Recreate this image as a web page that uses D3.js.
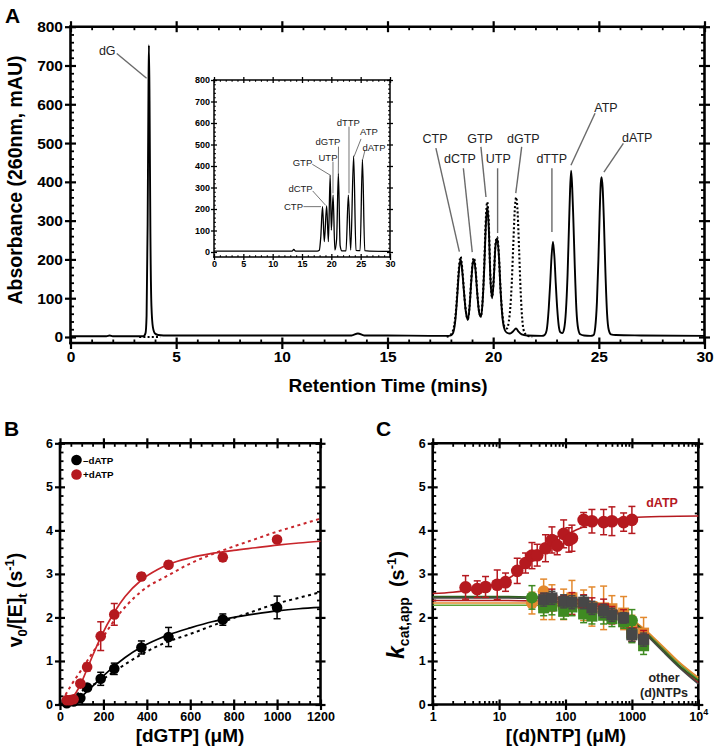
<!DOCTYPE html>
<html><head><meta charset="utf-8">
<script src="https://cdn.jsdelivr.net/npm/d3@7"></script>
<style>body{margin:0;background:#fff}</style>
</head><body><svg id="c" width="714" height="753"></svg>
<script>
// ---------------- DATA ----------------
// Panel A: chromatogram (retention time min, absorbance mAU)
const traceSolid = [[0,2],[1.0,2],[1.7,2],[1.85,4],[2.0,2],[3.0,2],[3.45,2],[3.55,10],[3.6,55],[3.65,290],[3.69,640],[3.71,752],[3.74,610],[3.78,270],[3.83,80],[3.9,25],[4.0,9],[4.15,5],[4.4,4],[6,4],[8,4],[10,4],[12,4],[13.3,4],[13.6,9],[13.9,4],[15,4],[17,3],[17.9,3],
[18.0,4],[18.1,10],[18.2,38],[18.3,105],[18.38,170],[18.46,201],[18.54,168],[18.62,115],[18.7,68],[18.8,44],[18.88,75],[18.96,140],[19.03,188],[19.09,199],[19.16,175],[19.25,110],[19.34,62],[19.42,52],[19.5,90],[19.58,180],[19.65,285],[19.72,336],[19.79,285],[19.87,150],[19.95,100],[20.03,150],[20.11,235],[20.19,254],[20.27,210],[20.35,120],[20.45,45],[20.55,18],[20.65,11],[20.8,9],[20.95,15],[21.08,22],[21.2,14],[21.35,7],[21.6,4],[22.3,3],
[22.43,5],[22.53,17],[22.63,74],[22.7,140],[22.76,205],[22.83,246],[22.9,205],[22.96,140],[23.03,74],[23.1,30],[23.18,12],[23.27,10],
[23.36,22],[23.44,65],[23.52,160],[23.59,290],[23.64,380],[23.69,429],[23.74,385],[23.79,310],[23.86,185],[23.94,70],[24.02,22],[24.12,7],[24.3,4],[24.6,3],
[24.75,5],[24.83,25],[24.91,90],[24.98,200],[25.04,320],[25.09,395],[25.13,412],[25.18,385],[25.24,300],[25.31,170],[25.39,60],[25.47,18],[25.57,7],[25.8,5],[27,4],[30,3]];
const traceDottedBase = [[3.25,0],[4.25,0]];
const traceDotted = [[17.8,1],[17.95,4],[18.05,10],[18.15,28],[18.25,75],[18.33,140],[18.4,190],[18.46,207],[18.53,180],[18.62,118],[18.7,70],[18.8,46],[18.88,78],[18.96,145],[19.03,193],[19.09,204],[19.16,180],[19.25,113],[19.34,64],[19.42,54],[19.5,95],[19.58,190],[19.65,300],[19.72,348],[19.79,295],[19.87,155],[19.95,103],[20.03,155],[20.11,240],[20.19,258],[20.27,212],[20.35,122],[20.45,52],[20.55,25],[20.65,22],[20.74,40],[20.81,75],[20.88,140],[20.95,235],[21.02,325],[21.09,360],[21.16,318],[21.23,220],[21.3,118],[21.37,50],[21.44,18],[21.55,6],[21.7,2],[21.85,1]];
// inset trace
const traceInset = [[0,4],[13.3,4],[13.6,12],[13.9,4],[17.6,4],[17.95,8],[18.2,70],[18.5,211],[18.8,48],[19.2,214],[19.5,48],[19.8,358],[20.0,102],[20.3,265],[20.6,9],[20.9,60],[21.2,366],[21.5,30],[21.8,5],[22.5,5],[22.9,265],[23.3,9],[23.8,447],[24.2,8],[24.9,6],[25.3,431],[25.7,6],[26.5,4],[30,3]];
// peak labels: text pos (t,v), leader from (t1,v1) to (t2,v2)
const peakLabels = [
 {name:"dG",  tx:1.74, tv:727, t1:2.19, v1:731, t2:3.6,  v2:667},
 {name:"CTP", tx:17.25,tv:500, t1:17.29,v1:487, t2:18.40,v2:220},
 {name:"dCTP",tx:18.43,tv:448, t1:18.59,v1:435, t2:19.01,v2:219},
 {name:"GTP", tx:19.38,tv:500, t1:19.42,v1:490, t2:19.66,v2:361},
 {name:"UTP", tx:20.24,tv:448, t1:20.21,v1:435, t2:20.21,v2:268},
 {name:"dGTP",tx:21.43,tv:500, t1:21.35,v1:490, t2:21.07,v2:371},
 {name:"dTTP",tx:22.77,tv:448, t1:22.78,v1:435, t2:22.78,v2:271},
 {name:"ATP", tx:25.34,tv:580, t1:24.82,v1:577, t2:23.68,v2:443},
 {name:"dATP",tx:26.82,tv:503, t1:26.16,v1:499, t2:25.24,v2:425}];
const insetLabels = [
 {name:"CTP", tx:13.55,tv:195, t1:15.25,v1:211, t2:18.24,v2:211},
 {name:"dCTP",tx:14.75,tv:277, t1:16.82,v1:284, t2:19.04,v2:217},
 {name:"GTP", tx:15.08,tv:398, t1:16.75,v1:408, t2:19.77,v2:358},
 {name:"UTP", tx:19.43,tv:423, t1:20.28,v1:420, t2:20.28,v2:273},
 {name:"dGTP",tx:19.43,tv:498, t1:21.22,v1:490, t2:21.19,v2:366},
 {name:"dTTP",tx:22.9, tv:588, t1:23.01,v1:583, t2:23.01,v2:273},
 {name:"ATP", tx:26.42,tv:544, t1:25.06,v1:526, t2:23.86,v2:443},
 {name:"dATP",tx:27.27,tv:470, t1:25.74,v1:474, t2:25.35,v2:431}];

// Panel B: v0/[E]t vs [dGTP]
const bMinusX = [31.25,62.5,93.75,125,187.5,250,375,500,750,1000];
const bMinusY = [0.03,0.07,0.15,0.39,0.59,0.82,1.31,1.55,1.95,2.23];
const bMinusE = [0.02,0.03,0.05,0.06,0.15,0.13,0.15,0.22,0.13,0.26];
const bPlusX  = [31.25,46.875,62.5,93.75,125,187.5,250,375,500,750,1000];
const bPlusY  = [0.1,0.1,0.12,0.48,0.86,1.57,2.07,2.94,3.21,3.38,3.79];
const bPlusE  = [0.03,0.03,0.03,0.05,0.09,0.33,0.25,0.08,0.08,0.09,0.05];
const fitMinusSolid = [[40,0.02],[62,0.06],[94,0.16],[125,0.3],[150,0.42],[188,0.6],[250,0.88],[300,1.08],[375,1.32],[450,1.5],[500,1.6],[600,1.76],[700,1.9],[800,2.0],[900,2.08],[1000,2.15],[1100,2.2],[1200,2.23]];
const fitMinusDot   = [[25,0.07],[62,0.18],[94,0.29],[125,0.38],[188,0.55],[250,0.76],[375,1.15],[500,1.45],[600,1.62],[750,1.9],[850,2.07],[1000,2.32],[1100,2.45],[1200,2.58]];
const fitPlusSolid  = [[25,0.05],[50,0.12],[75,0.28],[100,0.52],[125,0.82],[150,1.12],[188,1.55],[250,2.12],[300,2.48],[375,2.86],[450,3.1],[500,3.22],[600,3.37],[700,3.47],[800,3.54],[900,3.6],[1000,3.66],[1100,3.71],[1200,3.75]];
const fitPlusDot    = [[25,0.22],[50,0.43],[94,0.76],[125,1.0],[188,1.47],[250,1.93],[375,2.6],[500,2.97],[600,3.24],[700,3.45],[800,3.63],[900,3.8],[1000,3.97],[1100,4.12],[1200,4.27]];

// Panel C: kcat,app vs [(d)NTP]
const cDatpX = [3.125,4.6875,6.25,9.375,12.5,18.75,25,31.25,37.5,50,62.5,75,93.75,112.5,125,187.5,250,375,500,750,1000];
const cDatpY = [2.69,2.65,2.70,2.75,2.81,3.07,3.25,3.42,3.43,3.59,3.78,3.65,3.92,3.78,3.82,4.24,4.21,4.19,4.21,4.19,4.24];
const cDatpE = [0.27,0.19,0.24,0.34,0.21,0.29,0.23,0.3,0.25,0.31,0.3,0.21,0.32,0.28,0.3,0.17,0.27,0.29,0.33,0.21,0.31];
const cDatpFit = [[1,2.55],[2,2.58],[3,2.61],[5,2.66],[7,2.71],[10,2.79],[15,2.93],[20,3.06],[30,3.27],[50,3.56],[70,3.73],[100,3.89],[150,4.02],[200,4.1],[300,4.18],[500,4.24],[1000,4.29],[3000,4.32],[10000,4.33]];
const cSqX = [46.875,62.5,93.75,125,187.5,250,375,500,750,1000,1500];
const cOrangeCircX = [31.25,46.875], cOrangeCircY = [2.33,2.6], cOrangeCircE = [0.25,0.28];
const cGreenCircX = [31.25,1000], cGreenCircY = [2.46,1.93], cGreenCircE = [0.27,0.25];
const cOrangeSqY = [2.3,2.35,2.3,2.45,2.28,2.25,2.22,2.2,2.1,1.75,1.64];
const cOrangeSqE = [0.35,0.4,0.35,0.4,0.35,0.45,0.5,0.3,0.38,0.3,0.36];
const cRedSqY  = [2.35,2.4,2.3,2.32,2.3,2.2,2.2,2.05,1.98,1.65,1.5];
const cRedSqE  = [0.2,0.25,0.2,0.25,0.22,0.25,0.22,0.2,0.2,0.2,0.2];
const cGreenSqY = [2.22,2.26,2.14,2.24,2.08,2.03,2.05,1.97,1.9,1.62,1.35];
const cGreenSqE = [0.18,0.2,0.18,0.2,0.2,0.18,0.2,0.18,0.15,0.2,0.2];
const cGreySqY = [2.41,2.45,2.37,2.35,2.35,2.22,2.15,2.06,1.99,1.6,1.49];
const cGreySqE = [0.15,0.15,0.15,0.15,0.15,0.15,0.15,0.15,0.12,0.15,0.15];
const cFitX = [1,10,30,100,300,600,1000,1500,2000,3000,5000,10000];
const cFitDkGreen = [2.48,2.48,2.47,2.44,2.33,2.15,1.93,1.7,1.51,1.24,0.91,0.55];
const cFitGrey    = [2.45,2.45,2.44,2.41,2.3,2.12,1.9,1.66,1.47,1.2,0.87,0.47];
const cFitRed     = [2.39,2.39,2.38,2.35,2.26,2.1,1.9,1.68,1.5,1.24,0.9,0.5];
const cFitOrange  = [2.33,2.33,2.33,2.31,2.25,2.13,1.95,1.75,1.58,1.32,0.99,0.62];
const cFitGreen   = [2.28,2.28,2.28,2.26,2.2,2.09,1.92,1.72,1.55,1.29,0.96,0.58];

// ---------------- DRAWING ----------------
const FONT = '"Liberation Sans", Arial, Helvetica, sans-serif';
const RED = '#B5191F', ORANGE = '#E3892E', GREEN = '#3F8A22', DKGREEN = '#2E5E1E', GREY = '#474747';
const svg = d3.select('#c').attr('font-family', FONT);
const range = (a,b,s) => d3.range(a, b + s/2, s);
const minorOnly = (vals, majors) => vals.filter(v => !majors.some(m => Math.abs(m - v) < 1e-9));

function ticks(parent, orient, scale, pos, values, size, fmt, fs, pad, sw) {
  const gen = {left:d3.axisLeft, right:d3.axisRight, top:d3.axisTop, bottom:d3.axisBottom}[orient](scale)
    .tickValues(values).tickSize(size).tickSizeOuter(0).tickPadding(pad == null ? 3 : pad)
    .tickFormat(fmt || (() => ''));
  const tr = (orient === 'left' || orient === 'right') ? `translate(${pos},0)` : `translate(0,${pos})`;
  const g = parent.append('g').attr('transform', tr).call(gen);
  g.select('.domain').remove();
  g.attr('font-family', null).attr('font-size', null);
  g.selectAll('.tick line').attr('stroke', '#000').attr('stroke-width', sw || 2);
  g.selectAll('.tick text').attr('font-weight', 'bold').attr('font-size', fs || 12).attr('fill', '#000');
  return g;
}
function frame(parent, x0, x1, yT, yB, sw) {
  [[x0,yT,x0,yB],[x1,yT,x1,yB],[x0,yT,x1,yT],[x0,yB,x1,yB]].forEach(l =>
    parent.append('line').attr('x1', l[0]).attr('y1', l[1]).attr('x2', l[2]).attr('y2', l[3])
      .attr('stroke', '#000').attr('stroke-width', sw).attr('stroke-linecap', 'square'));
}

// ===== Panel A =====
const A = svg.append('g');
const ax = d3.scaleLinear().domain([0, 30]).range([70.5, 704.5]);
const ay = d3.scaleLinear().domain([0, 800]).range([337, 26.7]);
const aBot = 343;
{
  const yMaj = range(0, 800, 100), yMin = minorOnly(range(0, 800, 20), yMaj);
  const xMaj = range(0, 30, 5), xMin = minorOnly(range(0, 30, 1), xMaj);
  ticks(A, 'left', ay, 70.5, yMaj, 5.5, d3.format('d'), 15.5, 2, 2.2);
  ticks(A, 'left', ay, 70.5, yMaj, -5.5, null, 0, 0, 2.2);
  ticks(A, 'left', ay, 70.5, yMin, -3.5, null, 0, 0, 1.8);
  ticks(A, 'right', ay, 704.5, yMaj, 5.5, null, 0, 0, 2.2);
  ticks(A, 'right', ay, 704.5, yMaj, -5.5, null, 0, 0, 2.2);
  ticks(A, 'right', ay, 704.5, yMin, -3.5, null, 0, 0, 1.8);
  ticks(A, 'bottom', ax, aBot, xMaj, 6, d3.format('d'), 15.5, 2, 2.2);
  ticks(A, 'bottom', ax, aBot, xMaj, -5.5, null, 0, 0, 2.2);
  ticks(A, 'bottom', ax, aBot, xMin, -3.5, null, 0, 0, 1.8);
  ticks(A, 'top', ax, 26.7, xMaj, 5.5, null, 0, 0, 2.2);
  ticks(A, 'top', ax, 26.7, xMaj, -5.5, null, 0, 0, 2.2);
  ticks(A, 'top', ax, 26.7, xMin, -3.5, null, 0, 0, 1.8);
  frame(A, 70.5, 704.5, 26.7, aBot, 2.6);

  const line = d3.line().x(d => ax(d[0])).y(d => ay(d[1])).curve(d3.curveMonotoneX);
  A.append('path').attr('d', line(traceSolid)).attr('fill', 'none').attr('stroke', '#000').attr('stroke-width', 1.9).attr('stroke-linejoin', 'round');
  [traceDottedBase, traceDotted].forEach(tr =>
    A.append('path').attr('d', line(tr)).attr('fill', 'none').attr('stroke', '#000').attr('stroke-width', 2.1).attr('stroke-dasharray', '2,2.2'));

  peakLabels.forEach(p => {
    A.append('line').attr('x1', ax(p.t1)).attr('y1', ay(p.v1)).attr('x2', ax(p.t2)).attr('y2', ay(p.v2))
      .attr('stroke', '#6a6a6a').attr('stroke-width', 1.4);
    A.append('text').attr('x', ax(p.tx)).attr('y', ay(p.tv)).attr('text-anchor', 'middle')
      .attr('font-size', 12.5).attr('fill', '#222').text(p.name);
  });

  A.append('text').attr('x', 5).attr('y', 23).attr('font-size', 21).attr('font-weight', 'bold').text('A');
  A.append('text').attr('transform', 'translate(22,180) rotate(-90)').attr('text-anchor', 'middle')
    .attr('font-size', 19.5).attr('font-weight', 'bold').text('Absorbance (260nm, mAU)');
  A.append('text').attr('x', 388).attr('y', 392).attr('text-anchor', 'middle')
    .attr('font-size', 19).attr('font-weight', 'bold').text('Retention Time (mins)');

  // inset
  const I = A.append('g');
  const ix = d3.scaleLinear().domain([0, 30]).range([214, 390]);
  const iy = d3.scaleLinear().domain([0, 800]).range([252, 80]);
  const iBot = 257;
  const iyMaj = range(0, 800, 100), iyMin = minorOnly(range(0, 800, 20), iyMaj);
  const ixMaj = range(0, 30, 5), ixMin = minorOnly(range(0, 30, 1), ixMaj);
  ticks(I, 'left', iy, 214, iyMaj, 3, d3.format('d'), 9, 1, 1.3);
  ticks(I, 'left', iy, 214, iyMaj, -3, null, 0, 0, 1.3);
  ticks(I, 'left', iy, 214, iyMin, -1.8, null, 0, 0, 1.1);
  ticks(I, 'right', iy, 390, iyMaj, 3, null, 0, 0, 1.3);
  ticks(I, 'right', iy, 390, iyMaj, -3, null, 0, 0, 1.3);
  ticks(I, 'right', iy, 390, iyMin, -1.8, null, 0, 0, 1.1);
  ticks(I, 'bottom', ix, iBot, ixMaj, 3, d3.format('d'), 9, 1, 1.3);
  ticks(I, 'bottom', ix, iBot, ixMaj, -3, null, 0, 0, 1.3);
  ticks(I, 'bottom', ix, iBot, ixMin, -1.8, null, 0, 0, 1.1);
  ticks(I, 'top', ix, 80, ixMaj, 3, null, 0, 0, 1.3);
  ticks(I, 'top', ix, 80, ixMaj, -3, null, 0, 0, 1.3);
  ticks(I, 'top', ix, 80, ixMin, -1.8, null, 0, 0, 1.1);
  frame(I, 214, 390, 80, iBot, 1.5);
  const iline = d3.line().x(d => ix(d[0])).y(d => iy(d[1])).curve(d3.curveMonotoneX);
  I.append('path').attr('d', iline(traceInset)).attr('fill', 'none').attr('stroke', '#000').attr('stroke-width', 1.3);
  insetLabels.forEach(p => {
    I.append('line').attr('x1', ix(p.t1)).attr('y1', iy(p.v1)).attr('x2', ix(p.t2)).attr('y2', iy(p.v2))
      .attr('stroke', '#666').attr('stroke-width', 0.9);
    I.append('text').attr('x', ix(p.tx)).attr('y', iy(p.tv)).attr('text-anchor', 'middle')
      .attr('font-size', 9.5).attr('fill', '#222').text(p.name);
  });
}

// shared helpers for B & C
function errorBars(g, xs, ys, es, x, y, color, cap) {
  xs.forEach((xv, i) => {
    const px = x(xv), y1 = y(ys[i] - es[i]), y2 = y(ys[i] + es[i]);
    g.append('line').attr('x1', px).attr('x2', px).attr('y1', y1).attr('y2', y2).attr('stroke', color).attr('stroke-width', 1.5);
    [y1, y2].forEach(yy => g.append('line').attr('x1', px - cap).attr('x2', px + cap).attr('y1', yy).attr('y2', yy).attr('stroke', color).attr('stroke-width', 1.5));
  });
}
function circles(g, xs, ys, x, y, color, r) {
  g.selectAll(null).data(xs.map((v, i) => [v, ys[i]])).join('circle')
    .attr('cx', d => x(d[0])).attr('cy', d => y(d[1])).attr('r', r).attr('fill', color);
}
function squares(g, xs, ys, x, y, color, s) {
  g.selectAll(null).data(xs.map((v, i) => [v, ys[i]])).join('rect')
    .attr('x', d => x(d[0]) - s / 2).attr('y', d => y(d[1]) - s / 2).attr('width', s).attr('height', s).attr('fill', color);
}
function plotFrame(g, x, y, x0, x1, yT, yB, xMaj, xMin, yMaj, yMin, xFmt) {
  ticks(g, 'left', y, x0, yMaj, 5, d3.format('d'), 12.5, 2, 2.2);
  ticks(g, 'left', y, x0, yMaj, -5, null, 0, 0, 2.2);
  ticks(g, 'left', y, x0, yMin, -3.5, null, 0, 0, 1.8);
  ticks(g, 'right', y, x1, yMaj, 5, null, 0, 0, 2.2);
  ticks(g, 'right', y, x1, yMaj, -5, null, 0, 0, 2.2);
  ticks(g, 'right', y, x1, yMin, -3.5, null, 0, 0, 1.8);
  const bt = ticks(g, 'bottom', x, yB, xMaj, 5.5, xFmt, 12.5, 2, 2.2);
  ticks(g, 'bottom', x, yB, xMaj, -5, null, 0, 0, 2.2);
  ticks(g, 'bottom', x, yB, xMin, -3.5, null, 0, 0, 1.8);
  ticks(g, 'top', x, yT, xMaj, 5, null, 0, 0, 2.2);
  ticks(g, 'top', x, yT, xMaj, -5, null, 0, 0, 2.2);
  ticks(g, 'top', x, yT, xMin, -3.5, null, 0, 0, 1.8);
  frame(g, x0, x1, yT, yB, 2.6);
  return bt;
}

// ===== Panel B =====
const B = svg.append('g');
const bx = d3.scaleLinear().domain([0, 1200]).range([60, 320.5]);
const by = d3.scaleLinear().domain([0, 6]).range([704.5, 443.3]);
{
  const yMaj = range(0, 6, 1), yMin = minorOnly(range(0, 6, 0.2), yMaj);
  const xMaj = range(0, 1200, 200), xMin = minorOnly(range(0, 1200, 50), xMaj);
  plotFrame(B, bx, by, 60, 320.5, 443.3, 704.5, xMaj, xMin, yMaj, yMin, d3.format('d'));
  const line = d3.line().x(d => bx(d[0])).y(d => by(d[1])).curve(d3.curveMonotoneX);
  const drawFit = (pts, color, dash) => B.append('path').attr('d', line(pts)).attr('fill', 'none')
    .attr('stroke', color).attr('stroke-width', dash ? 2 : 1.7).attr('stroke-dasharray', dash ? '3,3.5' : null);
  drawFit(fitMinusDot, '#000', true);
  drawFit(fitMinusSolid, '#000', false);
  drawFit(fitPlusDot, '#C8252B', true);
  drawFit(fitPlusSolid, '#C8252B', false);
  errorBars(B, bMinusX, bMinusY, bMinusE, bx, by, '#000', 3.5);
  circles(B, bMinusX, bMinusY, bx, by, '#000', 5.3);
  errorBars(B, bPlusX, bPlusY, bPlusE, bx, by, RED, 3.5);
  circles(B, bPlusX, bPlusY, bx, by, RED, 5.3);
  // legend
  B.append('circle').attr('cx', 76.5).attr('cy', 460).attr('r', 5.3).attr('fill', '#000');
  B.append('circle').attr('cx', 76.5).attr('cy', 474.5).attr('r', 5.3).attr('fill', RED);
  B.append('text').attr('x', 83).attr('y', 463.5).attr('font-size', 9.8).attr('font-weight', 'bold').text('\u2013dATP');
  B.append('text').attr('x', 83).attr('y', 478).attr('font-size', 9.8).attr('font-weight', 'bold').text('+dATP');

  B.append('text').attr('x', 4).attr('y', 436).attr('font-size', 21).attr('font-weight', 'bold').text('B');
  const t = B.append('text').attr('transform', 'translate(22,600) rotate(-90)').attr('text-anchor', 'middle')
    .attr('font-size', 19.5).attr('font-weight', 'bold');
  t.append('tspan').text('v');
  t.append('tspan').attr('dy', 5).attr('font-size', 13).text('0');
  t.append('tspan').attr('dy', -5).text('/[E]');
  t.append('tspan').attr('dy', 5).attr('font-size', 13).text('t');
  t.append('tspan').attr('dy', -5).text(' (s');
  t.append('tspan').attr('dy', -8).attr('font-size', 13).text('-1');
  t.append('tspan').attr('dy', 8).text(')');
  B.append('text').attr('x', 190).attr('y', 742).attr('text-anchor', 'middle')
    .attr('font-size', 19).attr('font-weight', 'bold').text('[dGTP] (\u03bcM)');
}

// ===== Panel C =====
const C = svg.append('g');
const cx = d3.scaleLog().domain([1, 10000]).range([432.7, 698.3]);
const cy = d3.scaleLinear().domain([0, 6]).range([704.5, 443.3]);
{
  const yMaj = range(0, 6, 1), yMin = minorOnly(range(0, 6, 0.2), yMaj);
  const xMaj = [1, 10, 100, 1000, 10000];
  const xMin = [];
  [1, 10, 100, 1000].forEach(d => { for (let k = 2; k <= 9; k++) xMin.push(d * k); });
  const bt = plotFrame(C, cx, cy, 432.7, 698.3, 443.3, 704.5, xMaj, xMin, yMaj, yMin, d => d === 10000 ? '' : String(d));
  bt.selectAll('.tick').filter(d => d === 10000).select('text').each(function () {
    const tx = d3.select(this);
    tx.append('tspan').text('10');
    tx.append('tspan').attr('dy', -6).attr('font-size', 9).text('4');
  });
  const fitLine = d3.line().x(d => cx(d[0])).y(d => cy(d[1])).curve(d3.curveMonotoneX);
  const fit = (ys, color) => C.append('path').attr('d', fitLine(cFitX.map((x, i) => [x, ys[i]])))
    .attr('fill', 'none').attr('stroke', color).attr('stroke-width', 1.6);
  fit(cFitGreen, '#5DA336'); fit(cFitOrange, ORANGE); fit(cFitRed, RED); fit(cFitGrey, GREY); fit(cFitDkGreen, DKGREEN);

  errorBars(C, cOrangeCircX, cOrangeCircY, cOrangeCircE, cx, cy, ORANGE, 3.5);
  circles(C, cOrangeCircX, cOrangeCircY, cx, cy, ORANGE, 6);
  errorBars(C, cSqX, cOrangeSqY, cOrangeSqE, cx, cy, ORANGE, 3.5);
  squares(C, cSqX, cOrangeSqY, cx, cy, ORANGE, 11);
  errorBars(C, cSqX, cRedSqY, cRedSqE, cx, cy, RED, 3.5);
  squares(C, cSqX, cRedSqY, cx, cy, RED, 11);
  errorBars(C, cSqX, cGreenSqY, cGreenSqE, cx, cy, GREEN, 3.5);
  squares(C, cSqX, cGreenSqY, cx, cy, GREEN, 11);
  errorBars(C, cGreenCircX, cGreenCircY, cGreenCircE, cx, cy, GREEN, 3.5);
  circles(C, cGreenCircX, cGreenCircY, cx, cy, GREEN, 6);
  errorBars(C, cSqX, cGreySqY, cGreySqE, cx, cy, GREY, 3.5);
  squares(C, cSqX, cGreySqY, cx, cy, GREY, 11);

  C.append('path').attr('d', fitLine(cDatpFit)).attr('fill', 'none').attr('stroke', RED).attr('stroke-width', 1.6);
  errorBars(C, cDatpX, cDatpY, cDatpE, cx, cy, RED, 3.5);
  circles(C, cDatpX, cDatpY, cx, cy, RED, 6.3);

  C.append('text').attr('x', 662).attr('y', 507).attr('text-anchor', 'middle').attr('font-size', 12.5)
    .attr('font-weight', 'bold').attr('fill', RED).text('dATP');
  C.append('text').attr('x', 664).attr('y', 682).attr('text-anchor', 'middle').attr('font-size', 12.5)
    .attr('font-weight', 'bold').attr('fill', '#222').text('other');
  C.append('text').attr('x', 664).attr('y', 697).attr('text-anchor', 'middle').attr('font-size', 12.5)
    .attr('font-weight', 'bold').attr('fill', '#222').text('(d)NTPs');

  C.append('text').attr('x', 376).attr('y', 436).attr('font-size', 21).attr('font-weight', 'bold').text('C');
  const t = C.append('text').attr('transform', 'translate(404,605) rotate(-90)').attr('text-anchor', 'middle')
    .attr('font-size', 20).attr('font-weight', 'bold');
  t.append('tspan').attr('font-style', 'italic').attr('font-size', 23).text('k');
  t.append('tspan').attr('dy', 5).attr('font-size', 14).text('cat,app');
  t.append('tspan').attr('dy', -5).text('\u2002(s');
  t.append('tspan').attr('dy', -8).attr('font-size', 13).text('-1');
  t.append('tspan').attr('dy', 8).text(')');
  C.append('text').attr('x', 566).attr('y', 742).attr('text-anchor', 'middle')
    .attr('font-size', 19).attr('font-weight', 'bold').text('[(d)NTP] (\u03bcM)');
}
</script></body></html>
